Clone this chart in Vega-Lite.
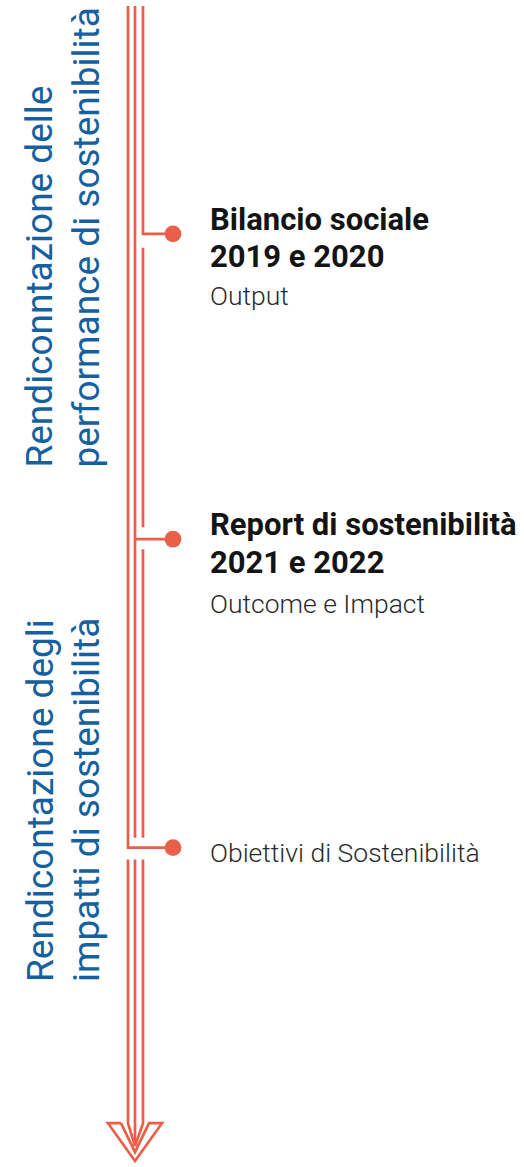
{
  "$schema": "https://vega.github.io/schema/vega-lite/v6.json",
  "width": 524,
  "height": 1167,
  "autosize": {"type": "fit", "contains": "padding"},
  "padding": 0,
  "background": "white",
  "config": {"view": {"stroke": null}},
  "datasets": {
    "paths": [
      {"seg": "L1", "o": 1, "x": 128, "y": 4}, {"seg": "L1", "o": 2, "x": 128, "y": 850}, {"seg": "L1", "o": 3, "x": 173, "y": 850},
      {"seg": "L2", "o": 1, "x": 128, "y": 862}, {"seg": "L2", "o": 2, "x": 128, "y": 1127}, {"seg": "L2", "o": 3, "x": 135, "y": 1150},
      {"seg": "M1", "o": 1, "x": 135, "y": 4}, {"seg": "M1", "o": 2, "x": 135, "y": 840},
      {"seg": "M2", "o": 1, "x": 135, "y": 862}, {"seg": "M2", "o": 2, "x": 135, "y": 1150},
      {"seg": "MB", "o": 1, "x": 135, "y": 540}, {"seg": "MB", "o": 2, "x": 173, "y": 540},
      {"seg": "R1", "o": 1, "x": 143, "y": 4}, {"seg": "R1", "o": 2, "x": 143, "y": 233}, {"seg": "R1", "o": 3, "x": 173, "y": 233},
      {"seg": "R2", "o": 1, "x": 143, "y": 247}, {"seg": "R2", "o": 2, "x": 143, "y": 528},
      {"seg": "R3", "o": 1, "x": 143, "y": 550}, {"seg": "R3", "o": 2, "x": 143, "y": 840},
      {"seg": "R4", "o": 1, "x": 143, "y": 862}, {"seg": "R4", "o": 2, "x": 143, "y": 1127}, {"seg": "R4", "o": 3, "x": 135, "y": 1150},
      {"seg": "A", "o": 1, "x": 121, "y": 1127}, {"seg": "A", "o": 2, "x": 108, "y": 1127}, {"seg": "A", "o": 3, "x": 135, "y": 1165},
      {"seg": "A", "o": 4, "x": 162, "y": 1127}, {"seg": "A", "o": 5, "x": 149, "y": 1127}, {"seg": "A", "o": 6, "x": 135, "y": 1156},
      {"seg": "A", "o": 7, "x": 121, "y": 1127}
    ],
    "dots": [
      {"x": 173, "y": 233}, {"x": 173, "y": 540}, {"x": 173, "y": 850}
    ],
    "labels": [
      {"text": "Bilancio sociale", "x": 210, "y": 229, "kind": "bold"},
      {"text": "2019 e 2020", "x": 210, "y": 266, "kind": "bold"},
      {"text": "Output", "x": 210, "y": 305, "kind": "light"},
      {"text": "Report di sostenibilità", "x": 210, "y": 536, "kind": "bold"},
      {"text": "2021 e 2022", "x": 210, "y": 574, "kind": "bold"},
      {"text": "Outcome e Impact", "x": 210, "y": 614, "kind": "light"},
      {"text": "Obiettivi di Sostenibilità", "x": 210, "y": 864, "kind": "light"},
      {"text": "Rendiconntazione delle", "x": 52, "y": 468, "kind": "side"},
      {"text": "performance di sostenibilità", "x": 99, "y": 468, "kind": "side"},
      {"text": "Rendicontazione degli", "x": 53, "y": 985, "kind": "side"},
      {"text": "impatti di sostenibilità", "x": 99, "y": 985, "kind": "side"}
    ]
  },
  "encoding": {
    "x": {"field": "x", "type": "quantitative", "scale": {"domain": [0, 524], "nice": false, "zero": false}, "axis": null},
    "y": {"field": "y", "type": "quantitative", "scale": {"domain": [0, 1167], "nice": false, "zero": false, "reverse": true}, "axis": null}
  },
  "layer": [
    {
      "data": {"name": "paths"},
      "mark": {"type": "line", "color": "#EA5F4A", "strokeWidth": 2.7, "strokeCap": "butt", "strokeJoin": "miter", "clip": false},
      "encoding": {
        "detail": {"field": "seg", "type": "nominal"},
        "order": {"field": "o", "type": "quantitative"}
      }
    },
    {
      "data": {"name": "dots"},
      "mark": {"type": "circle", "color": "#EA5F4A", "opacity": 1, "size": 280}
    },
    {
      "data": {"name": "labels"},
      "transform": [{"filter": "datum.kind === 'bold'"}],
      "mark": {"type": "text", "font": "Roboto", "fontWeight": "bold", "fontSize": 31, "align": "left", "baseline": "alphabetic", "color": "#141414"},
      "encoding": {"text": {"field": "text"}}
    },
    {
      "data": {"name": "labels"},
      "transform": [{"filter": "datum.kind === 'light'"}],
      "mark": {"type": "text", "font": "Roboto", "fontWeight": 300, "fontSize": 26.5, "align": "left", "baseline": "alphabetic", "color": "#2a2a2a"},
      "encoding": {"text": {"field": "text"}}
    },
    {
      "data": {"name": "labels"},
      "transform": [{"filter": "datum.kind === 'side'"}],
      "mark": {"type": "text", "font": "Roboto", "fontSize": 37, "angle": 270, "align": "left", "baseline": "alphabetic", "color": "#17609F"},
      "encoding": {"text": {"field": "text"}}
    }
  ]
}
